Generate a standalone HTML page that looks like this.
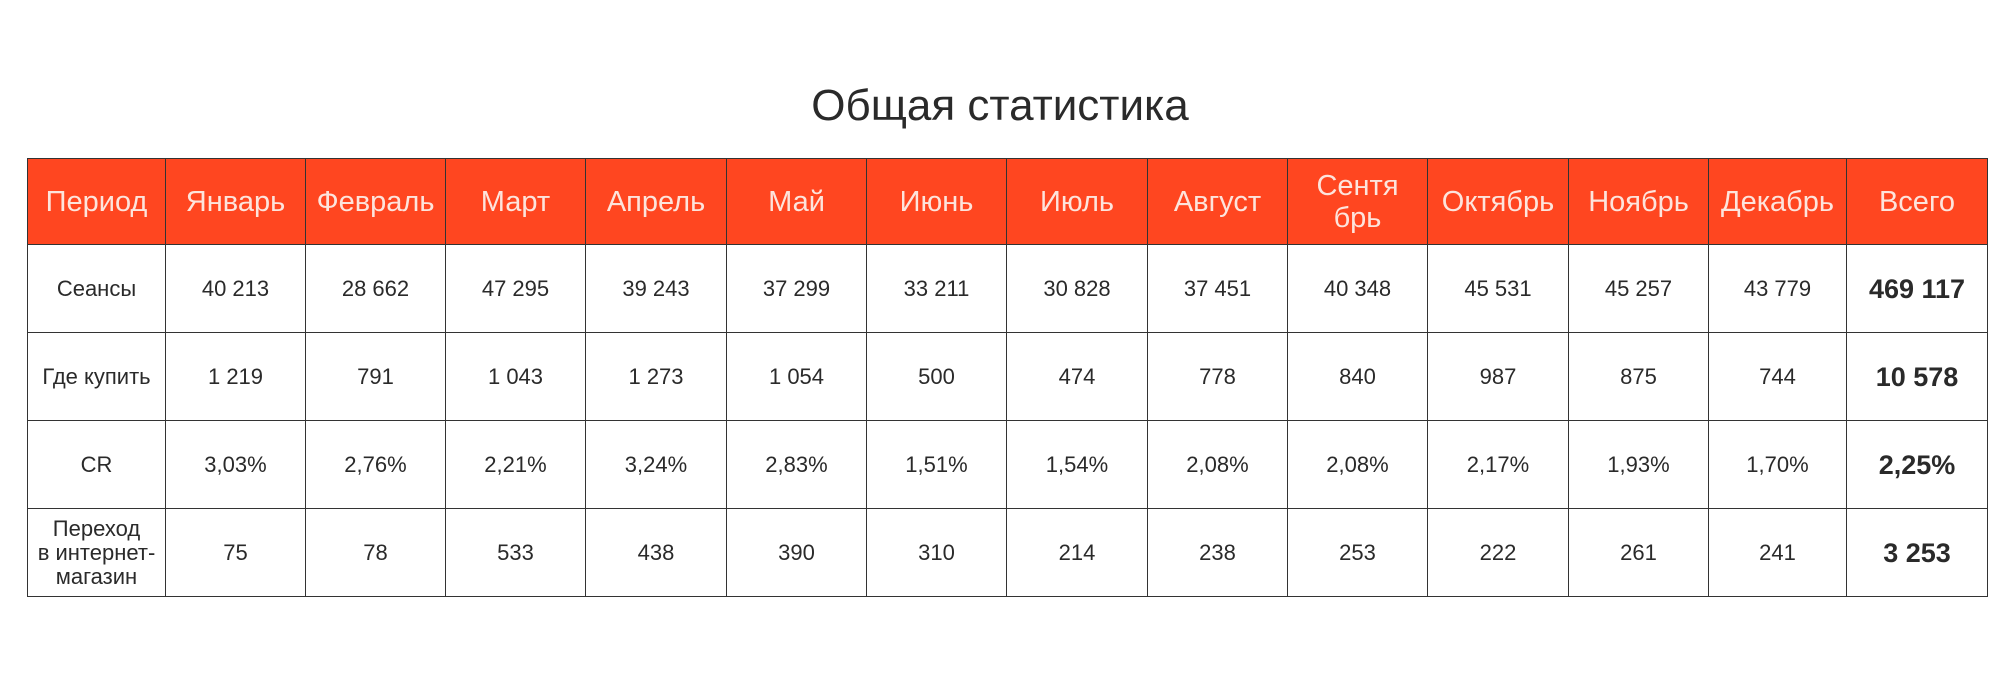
<!DOCTYPE html>
<html><head><meta charset="utf-8"><style>
body{margin:0;width:2000px;height:695px;background:#fff;position:relative;overflow:hidden;font-family:"Liberation Sans","DejaVu Sans",sans-serif;color:#2a2a2a}
h1{position:absolute;left:0;width:2000px;top:78px;margin:0;text-align:center;font-weight:normal;font-size:44px;line-height:56px;color:#2a2a2a}
table{position:absolute;left:27px;top:158px;border-collapse:collapse;table-layout:fixed}
td{border:1.5px solid #333;text-align:center;vertical-align:middle;font-size:22px;padding:0;height:87px;line-height:26px}
tr.h td{background:#ff4620;color:#fde4dc;font-size:29px;height:85px;line-height:32px}
td.b{font-weight:bold;font-size:27px}
</style></head><body>
<h1>Общая статистика</h1>
<table>
<colgroup><col style="width:138px"><col style="width:140px"><col style="width:140px"><col style="width:140px"><col style="width:141px"><col style="width:140px"><col style="width:140px"><col style="width:141px"><col style="width:140px"><col style="width:140px"><col style="width:141px"><col style="width:140px"><col style="width:138px"><col style="width:141px"></colgroup>
<tr class="h"><td>Период</td><td>Январь</td><td>Февраль</td><td>Март</td><td>Апрель</td><td>Май</td><td>Июнь</td><td>Июль</td><td>Август</td><td>Сентя<br>брь</td><td>Октябрь</td><td>Ноябрь</td><td>Декабрь</td><td>Всего</td></tr>
<tr><td>Сеансы</td><td>40 213</td><td>28 662</td><td>47 295</td><td>39 243</td><td>37 299</td><td>33 211</td><td>30 828</td><td>37 451</td><td>40 348</td><td>45 531</td><td>45 257</td><td>43 779</td><td class="b">469 117</td></tr>
<tr><td>Где купить</td><td>1 219</td><td>791</td><td>1 043</td><td>1 273</td><td>1 054</td><td>500</td><td>474</td><td>778</td><td>840</td><td>987</td><td>875</td><td>744</td><td class="b">10 578</td></tr>
<tr><td>CR</td><td>3,03%</td><td>2,76%</td><td>2,21%</td><td>3,24%</td><td>2,83%</td><td>1,51%</td><td>1,54%</td><td>2,08%</td><td>2,08%</td><td>2,17%</td><td>1,93%</td><td>1,70%</td><td class="b">2,25%</td></tr>
<tr><td style="line-height:24px">Переход<br>в интернет-<br>магазин</td><td>75</td><td>78</td><td>533</td><td>438</td><td>390</td><td>310</td><td>214</td><td>238</td><td>253</td><td>222</td><td>261</td><td>241</td><td class="b">3 253</td></tr>
</table>
</body></html>
